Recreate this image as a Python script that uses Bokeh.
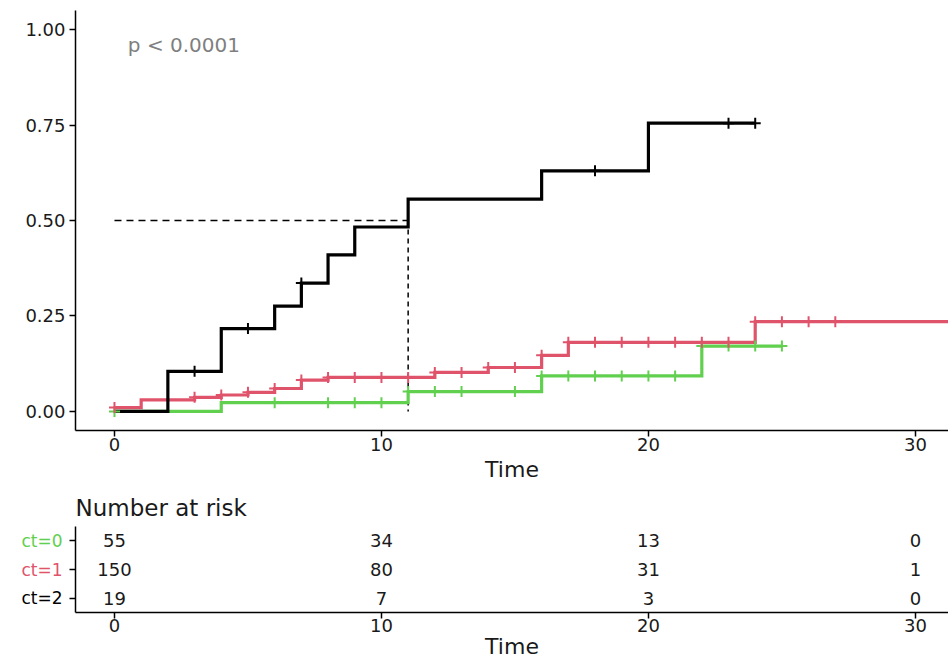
from bokeh.plotting import figure
from bokeh.layouts import column, row
from bokeh.models import Range1d, FixedTicker, Label, ColumnDataSource
from bokeh.core.properties import value
from bokeh.embed import file_html
from bokeh.resources import INLINE

FONT = "DejaVu Sans"

# ---------------- data ----------------
groups = ["ct=0", "ct=1", "ct=2"]
group_colors = ["#61D04F", "#DF536B", "#000000"]

ct0_time = [0, 4, 11, 16, 22, 25]
ct0_cuminc = [0.0, 0.023, 0.052, 0.093, 0.171, 0.171]
ct0_censor = [0, 6, 8, 9, 10, 11, 12, 13, 15, 16, 17, 18, 19, 20, 21, 22, 23, 24, 25]

ct1_time = [0, 1, 3, 4, 5, 6, 7, 8, 12, 14, 16, 17, 24, 33]
ct1_cuminc = [0.010, 0.030, 0.037, 0.043, 0.050, 0.060, 0.082, 0.089, 0.102, 0.115, 0.147, 0.181, 0.235, 0.235]
ct1_censor = [0, 3, 4, 5, 6, 7, 8, 9, 10, 11, 12, 13, 14, 15, 16, 17, 18, 19, 20, 21, 22, 23, 24, 25, 26, 27]

ct2_time = [0, 2, 4, 6, 7, 8, 9, 11, 16, 20, 24]
ct2_cuminc = [0.0, 0.105, 0.217, 0.276, 0.336, 0.410, 0.483, 0.556, 0.630, 0.755, 0.755]
ct2_censor = [3, 5, 7, 18, 23, 24]

median_time = 11
median_level = 0.5
pval_text = "p < 0.0001"

x_ticks = [0, 10, 20, 30]
y_ticks = [0.0, 0.25, 0.5, 0.75, 1.0]
y_tick_labels = ["0.00", "0.25", "0.50", "0.75", "1.00"]

risk_title = "Number at risk"
risk_times = [0, 10, 20, 30]
risk_ct0 = [55, 34, 13, 0]
risk_ct1 = [150, 80, 31, 1]
risk_ct2 = [19, 7, 3, 0]

series = [
    (ct0_time, ct0_cuminc, ct0_censor),
    (ct1_time, ct1_cuminc, ct1_censor),
    (ct2_time, ct2_cuminc, ct2_censor),
]
risk_rows = [risk_ct0, risk_ct1, risk_ct2]


def step_value(times, vals, t):
    idx = 0
    for i, tt in enumerate(times):
        if tt <= t:
            idx = i
    return vals[idx]


X_START, X_END = -1.46, 31.24
TEXT_COLOR = "#1a1a1a"


def style_axes(fig):
    fig.grid.visible = False
    fig.outline_line_color = None
    fig.background_fill_color = "white"
    fig.border_fill_color = "white"
    for ax in fig.axis:
        ax.axis_line_color = "black"
        ax.axis_line_width = 1.5
        ax.major_tick_line_color = "black"
        ax.major_tick_line_width = 1.5
        ax.major_tick_out = 6
        ax.major_tick_in = 0
        ax.minor_tick_out = 0
        ax.minor_tick_in = 0
        ax.major_label_text_font = FONT
        ax.major_label_text_font_size = "18px"
        ax.major_label_text_color = TEXT_COLOR
        ax.axis_label_text_font = FONT
        ax.axis_label_text_font_size = "22px"
        ax.axis_label_text_font_style = "normal"
        ax.axis_label_text_color = TEXT_COLOR


# ---------------- main plot ----------------
p = figure(width=948, height=484, x_range=Range1d(X_START, X_END),
           y_range=Range1d(-0.05, 1.05), output_backend="svg",
           toolbar_location=None, min_border_left=75, min_border_right=0,
           min_border_top=10, min_border_bottom=52)
style_axes(p)

p.xaxis.ticker = FixedTicker(ticks=x_ticks)
p.xaxis.axis_label = "Time"
p.xaxis.major_label_standoff = 1
p.xaxis.axis_label_standoff = 3
p.yaxis.ticker = FixedTicker(ticks=y_ticks)
p.yaxis.major_label_overrides = {t: lab for t, lab in zip(y_ticks, y_tick_labels)}
p.yaxis.major_label_standoff = 4

# median lines
p.line(x=[0, median_time], y=[median_level, median_level], line_color="black",
       line_width=1.5, line_dash="7 5")
p.line(x=[median_time, median_time], y=[median_level, 0], line_color="black",
       line_width=1.5, line_dash="5 4")

for (tm, ci, cens), col in zip(series, group_colors):
    p.step(x=tm, y=ci, mode="after", line_color=col, line_width=3.2,
           line_join="miter")
for (tm, ci, cens), col in zip(series, group_colors):
    cy = [step_value(tm, ci, t) for t in cens]
    p.scatter(x=cens, y=cy, marker="cross", size=11, line_color=col,
              line_width=2)

p.add_layout(Label(x=0.5, y=0.96, text=pval_text, text_font=FONT,
                   text_font_size="20px", text_color="#7f7f7f",
                   text_align="left", text_baseline="middle"))

# ---------------- risk table ----------------
TB_H, TB_TOP, TB_BOT = 178, 42, 50

t = figure(width=881, height=TB_H, x_range=Range1d(X_START, X_END),
           y_range=Range1d(0.5, 3.5), output_backend="svg",
           toolbar_location=None, min_border_left=8, min_border_right=0,
           min_border_top=TB_TOP, min_border_bottom=TB_BOT,
           title=risk_title)
style_axes(t)
t.title.text_font = FONT
t.title.text_font_size = "23px"
t.title.text_font_style = "normal"
t.title.text_color = TEXT_COLOR
t.title.align = "left"
t.title.standoff = 12
t.xaxis.ticker = FixedTicker(ticks=x_ticks)
t.xaxis.axis_label = "Time"
t.xaxis.major_label_standoff = 0
t.xaxis.axis_label_standoff = -1
t.yaxis.ticker = FixedTicker(ticks=[1, 2, 3])
t.yaxis.major_label_overrides = {1: "", 2: "", 3: ""}
t.yaxis.major_label_standoff = 0

xs, ys, txt = [], [], []
n = len(risk_rows)
for gi, rrow in enumerate(risk_rows):
    for tm, v in zip(risk_times, rrow):
        xs.append(tm)
        ys.append(n - gi)
        txt.append(str(v))
t.text(x="x", y="y", text="txt", source=ColumnDataSource(dict(x=xs, y=ys, txt=txt)),
       text_font=value(FONT), text_font_size="18px", text_color=TEXT_COLOR,
       text_align="center", text_baseline="middle")

# row labels (coloured) in a narrow companion figure
lab = figure(width=67, height=TB_H, x_range=Range1d(0, 1),
             y_range=Range1d(0.5, 3.5), output_backend="svg",
             toolbar_location=None, min_border_left=0, min_border_right=0,
             min_border_top=TB_TOP, min_border_bottom=TB_BOT,
             x_axis_location=None, y_axis_location=None)
lab.grid.visible = False
lab.outline_line_color = None
lab.text(x=[1] * n, y=[n - gi for gi in range(n)], text=groups,
         text_color=group_colors, x_offset=-5, text_font=value(FONT),
         text_font_size="17px", text_align="right", text_baseline="middle")

layout = column(p, row(lab, t, spacing=0), spacing=0)
open("out.html", "w").write(file_html(layout, INLINE))
